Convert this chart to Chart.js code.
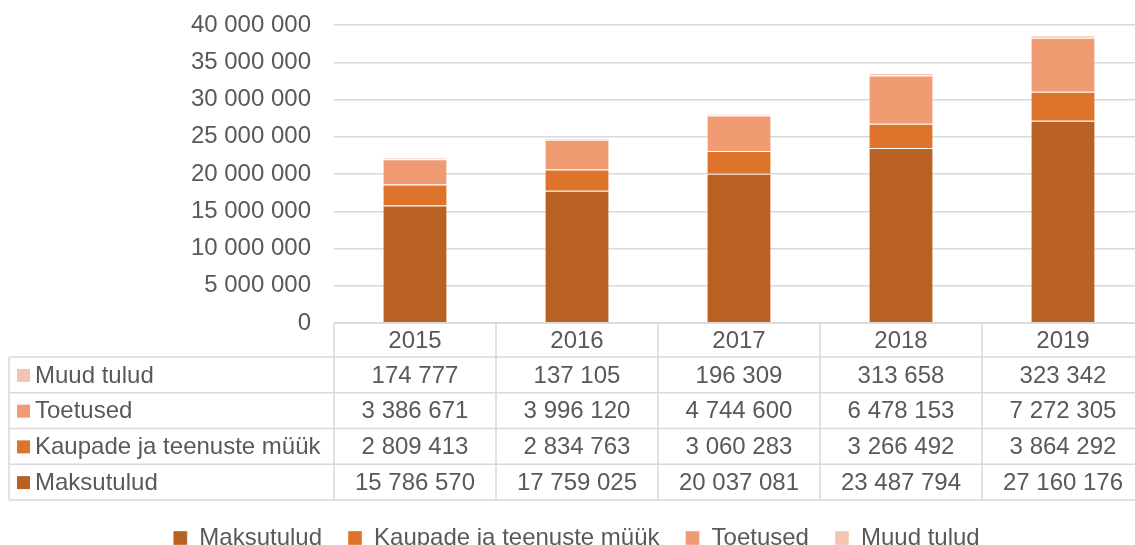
<!DOCTYPE html>
<html>
<head>
<meta charset="utf-8">
<script src="https://cdn.jsdelivr.net/npm/chart.js@4/dist/chart.umd.min.js"></script>
<style>
    html, body { margin: 0; padding: 0; background: #fff; overflow: hidden; }
    canvas { display: block; }
</style>
</head>
<body>
<canvas id="revenueChart" width="1150" height="560"></canvas>
<script>
const years = ['2015', '2016', '2017', '2018', '2019'];
const maksutulud = [15786570, 17759025, 20037081, 23487794, 27160176];
const kaubadMyyk = [2809413, 2834763, 3060283, 3266492, 3864292];
const toetused = [3386671, 3996120, 4744600, 6478153, 7272305];
const muudTulud = [174777, 137105, 196309, 313658, 323342];
const yTicks = [0, 5000000, 10000000, 15000000, 20000000, 25000000, 30000000, 35000000, 40000000];

const textColor = '#595959';
const lineColor = '#d9d9d9';
const fontFamily = '"Liberation Sans", Arial, sans-serif';

// space as thousands separator, like 15 786 570
function formatNumber(n) {
    return String(n).replace(/\B(?=(\d{3})+(?!\d))/g, ' ');
}

const series = [
    { label: 'Maksutulud', data: maksutulud, color: '#b86122' },
    { label: 'Kaupade ja teenuste müük', data: kaubadMyyk, color: '#de742b' },
    { label: 'Toetused', data: toetused, color: '#f09b72' },
    { label: 'Muud tulud', data: muudTulud, color: '#f5c4b0' }
];

// draws the data table under the plot, aligned with the x scale
const dataTablePlugin = {
    id: 'dataTable',
    afterDatasetsDraw(chart) {
        const ctx = chart.ctx;
        const x = chart.scales.x;
        const area = chart.chartArea;
        const tableLeft = 9;
        const tableRight = chart.width;
        const headerTop = x.top;
        const headerH = 34;
        const rows = series.slice().reverse();
        const rowH = (x.bottom - headerTop - headerH) / rows.length;
        const colW = x.width / years.length;

        ctx.save();
        ctx.strokeStyle = lineColor;
        ctx.lineWidth = 1.5;

        // horizontal lines
        ctx.beginPath();
        ctx.moveTo(area.left, headerTop);
        ctx.lineTo(tableRight, headerTop);
        for (let r = 0; r <= rows.length; r++) {
            const y = headerTop + headerH + r * rowH;
            ctx.moveTo(tableLeft, y);
            ctx.lineTo(tableRight, y);
        }
        // vertical lines
        ctx.moveTo(tableLeft, headerTop + headerH);
        ctx.lineTo(tableLeft, x.bottom);
        for (let c = 0; c <= years.length; c++) {
            const xx = area.left + c * colW;
            ctx.moveTo(xx, headerTop);
            ctx.lineTo(xx, x.bottom);
        }
        ctx.stroke();

        ctx.fillStyle = textColor;
        ctx.font = '24px ' + fontFamily;
        ctx.textBaseline = 'middle';
        ctx.textAlign = 'center';
        years.forEach((yr, i) => {
            ctx.fillText(yr, x.getPixelForValue(i), headerTop + headerH / 2 + 1);
        });

        rows.forEach((s, r) => {
            const cy = headerTop + headerH + r * rowH + rowH / 2 + 1;
            ctx.fillStyle = s.color;
            ctx.fillRect(17, cy - 7, 13, 13);
            ctx.fillStyle = textColor;
            ctx.textAlign = 'left';
            ctx.fillText(s.label, 35, cy);
            ctx.textAlign = 'center';
            s.data.forEach((v, i) => {
                ctx.fillText(formatNumber(v), x.getPixelForValue(i), cy);
            });
        });
        ctx.restore();
    }
};

Chart.defaults.font.family = fontFamily;
Chart.defaults.color = textColor;

new Chart(document.getElementById('revenueChart'), {
    type: 'bar',
    data: {
        labels: years,
        datasets: series.map(s => ({
            label: s.label,
            data: s.data,
            backgroundColor: s.color,
            borderColor: 'rgba(255, 255, 255, 0.35)',
            borderWidth: 1,
            barPercentage: 0.4,
            categoryPercentage: 1
        }))
    },
    options: {
        responsive: false,
        maintainAspectRatio: false,
        animation: false,
        layout: { padding: { top: 25, left: 9, right: 6, bottom: 0 } },
        plugins: {
            tooltip: { enabled: false },
            legend: {
                position: 'bottom',
                labels: {
                    boxWidth: 14,
                    boxHeight: 14,
                    padding: 26,
                    color: textColor,
                    font: { size: 24 }
                }
            }
        },
        scales: {
            x: {
                stacked: true,
                grid: { display: false },
                border: { display: false },
                ticks: { display: false },
                afterFit: s => { s.height = 177; }
            },
            y: {
                stacked: true,
                min: 0,
                max: 40000000,
                // fixed width; tick padding should not push the plot top down
                afterFit: s => {
                    s.width = 325;
                    s.paddingTop = 14;
                    s.paddingBottom = 14;
                },
                afterBuildTicks: s => { s.ticks = yTicks.map(v => ({ value: v })); },
                grid: { color: lineColor, lineWidth: 1.5, drawTicks: false },
                border: { display: false },
                ticks: {
                    padding: 23,
                    color: textColor,
                    font: { size: 24 },
                    callback: v => formatNumber(v)
                }
            }
        }
    },
    plugins: [dataTablePlugin]
});
</script>
</body>
</html>
